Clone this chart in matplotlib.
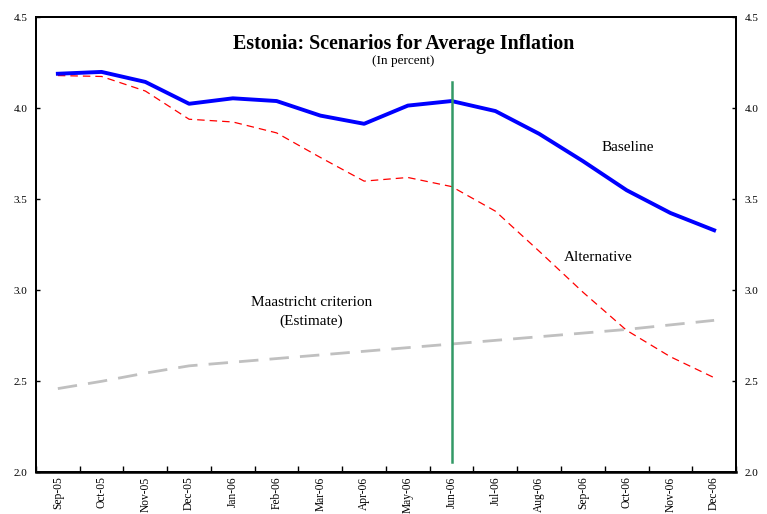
import matplotlib
matplotlib.use("Agg")
import matplotlib.pyplot as plt
import numpy as np

months = ["Sep-05", "Oct-05", "Nov-05", "Dec-05", "Jan-06", "Feb-06", "Mar-06", "Apr-06",
          "May-06", "Jun-06", "Jul-06", "Aug-06", "Sep-06", "Oct-06", "Nov-06", "Dec-06"]
baseline = [4.19, 4.20, 4.145, 4.025, 4.055, 4.04, 3.96, 3.915,
            4.015, 4.04, 3.985, 3.86, 3.71, 3.55, 3.425, 3.33]
alternative = [4.18, 4.175, 4.095, 3.94, 3.925, 3.865, 3.73, 3.60,
               3.62, 3.57, 3.435, 3.215, 2.99, 2.78, 2.635, 2.52]
maastricht = [2.46, 2.50, 2.545, 2.585, 2.605, 2.625, 2.645, 2.665,
              2.685, 2.705, 2.725, 2.745, 2.765, 2.785, 2.81, 2.835]
divider_month = "Jun-06"
divider_range = (2.057, 4.145)

plt.rcParams["font.family"] = ["Liberation Serif", "DejaVu Serif"]

fig = plt.figure(figsize=(7.67, 5.14), dpi=100)
ax = fig.add_axes([0.0469, 0.0811, 0.9127, 0.8852])
x = np.arange(len(months))

ax.plot(x, maastricht, color="#C0C0C0", lw=2.0, dashes=(7, 4), zorder=2)
ax.plot(x, alternative, color="#FF0000", lw=0.9, dashes=(6, 4), zorder=3)
ax.plot(x, baseline, color="#0000FF", lw=2.8, zorder=4)
xd = months.index(divider_month)
ax.plot([xd, xd], list(divider_range), color="#339966", lw=1.8, zorder=5)

yt = [2.0, 2.5, 3.0, 3.5, 4.0, 4.5]
ax.set_xlim(-0.5, len(months) - 0.5)
ax.set_ylim(2.0, 4.5)
ax.set_yticks(yt)
ax.set_yticklabels([f"{v:.1f}" for v in yt], fontsize=8)
ax.set_xticks(np.arange(-0.5, len(months) + 0.5, 1.0))
ax.set_xticklabels([])
ax.set_xticks(x, minor=True)
ax.set_xticklabels(months, minor=True, rotation=90, fontsize=8.3)
ax.tick_params(axis="x", which="major", direction="in", length=4, width=1)
ax.tick_params(axis="x", which="minor", length=0, pad=3)
ax.tick_params(axis="y", direction="in", length=3, width=1, pad=6, colors="black")

ax2 = ax.twinx()
ax2.set_ylim(2.0, 4.5)
ax2.set_yticks(yt)
ax2.set_yticklabels([f"{v:.1f}" for v in yt], fontsize=8)
ax2.tick_params(axis="y", direction="in", length=3, width=1, pad=6)

for a in (ax, ax2):
    for s in a.spines.values():
        s.set_linewidth(1.4)
ax.spines["bottom"].set_linewidth(1.8)

ax.text(0.525, 0.941, "Estonia: Scenarios for Average Inflation", transform=ax.transAxes,
        ha="center", va="center", fontsize=14.4, fontweight="bold")
ax.text(0.525, 0.903, "(In percent)", transform=ax.transAxes,
        ha="center", va="center", fontsize=9.5)

ax.text(13.03, 3.782, "Baseline", ha="center", va="center", fontsize=11)
ax.text(12.35, 3.183, "Alternative", ha="center", va="center", fontsize=11)
ax.text(5.79, 2.88, "Maastricht criterion\n(Estimate)", ha="center", va="center",
        fontsize=11, linespacing=1.6)

fig.savefig("out.png", dpi=100)
